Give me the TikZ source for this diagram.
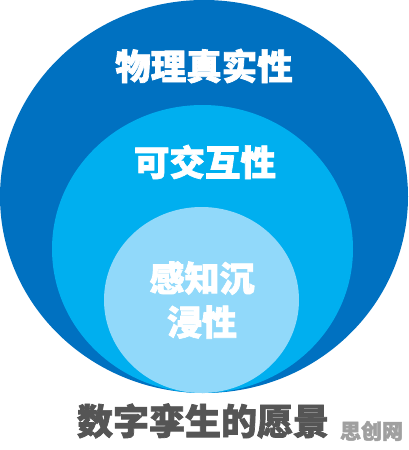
\documentclass[tikz,border=0pt]{standalone}
\usepackage{fontspec}
\newfontfamily\cjk[BoldFeatures={FakeBold=2}]{Noto Sans CJK SC}
\definecolor{outerblue}{HTML}{0071C1}
\definecolor{midblue}{HTML}{00AFEF}
\definecolor{innerblue}{HTML}{91D9FA}
\definecolor{titlegray}{HTML}{555555}
\definecolor{markgray}{HTML}{A0A0A0}
\tikzset{
  circtext/.style={text=white, font=\cjk\bfseries\fontsize{35.5}{43}\selectfont, align=center, inner sep=0pt},
}
\begin{document}
\begin{tikzpicture}[x=1pt,y=-1pt]
\useasboundingbox (0,0) rectangle (408,450);
\fill[white] (0,0) rectangle (408,450);
\fill[outerblue] (204,196.5) ellipse [x radius=204, y radius=196.5];
\fill[midblue] (202.5,249) ellipse [x radius=150.5, y radius=144];
\fill[innerblue] (201.5,300) ellipse [x radius=97.5, y radius=93];
\node[circtext] (outer) at (204,66) {物理真实性};
\node[circtext] (mid) at (205,162) {可交互性};
\node[circtext, font=\cjk\bfseries\fontsize{35}{44}\selectfont] (inner) at (202,300) {感知沉\\浸性};
\node[inner sep=0pt, text=titlegray, font=\cjk\bfseries\fontsize{36}{40}\selectfont] (title) at (203,421) {数字孪生的愿景};
\node[inner sep=0pt, text=markgray, font=\cjk\bfseries\fontsize{21}{24}\selectfont] (mark) at (371.5,431) {思创网};
\end{tikzpicture}
\end{document}
